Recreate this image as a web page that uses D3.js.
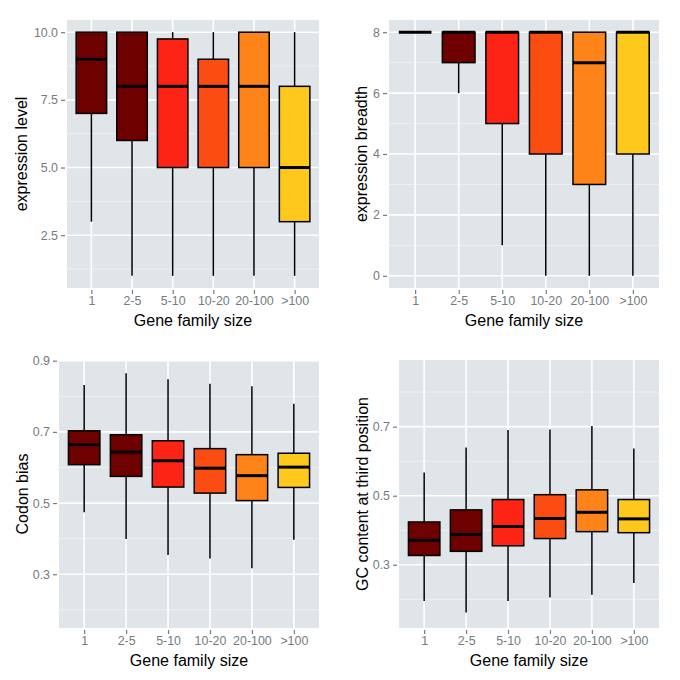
<!DOCTYPE html>
<html>
<head>
<meta charset="utf-8">
<script src="https://cdn.jsdelivr.net/npm/d3@7"></script>
<style>
  html, body { margin: 0; padding: 0; background: #ffffff; }
  svg { display: block; font-family: "Liberation Sans", Arial, Helvetica, sans-serif; }
</style>
</head>
<body>
<svg id="chart" width="680" height="680"></svg>
<script>
// ---------- DATA ----------
const categories = ["1", "2-5", "5-10", "10-20", "20-100", ">100"];
const fillColors = ["#6e0000", "#6e0000", "#fe2415", "#fb4c12", "#fe8318", "#fec81c"];

// five-number summaries per category: [lowerWhisker, q1, median, q3, upperWhisker]
const expressionLevel = [
  [3, 7, 9, 10, 10],
  [1, 6, 8, 10, 10],
  [1, 5, 8, 9.75, 10],
  [1, 5, 8, 9, 10],
  [1, 5, 8, 10, 10],
  [1, 3, 5, 8, 10]
];
const expressionBreadth = [
  [8, 8, 8, 8, 8],
  [6, 7, 8, 8, 8],
  [1, 5, 8, 8, 8],
  [0, 4, 8, 8, 8],
  [0, 3, 7, 8, 8],
  [0, 4, 8, 8, 8]
];
const codonBias = [
  [0.474, 0.608, 0.664, 0.703, 0.832],
  [0.399, 0.575, 0.643, 0.692, 0.865],
  [0.354, 0.545, 0.619, 0.675, 0.848],
  [0.344, 0.528, 0.598, 0.653, 0.835],
  [0.317, 0.507, 0.577, 0.636, 0.828],
  [0.397, 0.544, 0.601, 0.640, 0.779]
];
const gcThird = [
  [0.195, 0.327, 0.371, 0.424, 0.567],
  [0.162, 0.339, 0.388, 0.459, 0.640],
  [0.195, 0.355, 0.411, 0.489, 0.690],
  [0.205, 0.376, 0.434, 0.503, 0.692],
  [0.213, 0.396, 0.452, 0.517, 0.702],
  [0.247, 0.393, 0.433, 0.489, 0.637]
];

const levelTicks = [2.5, 5.0, 7.5, 10.0];
const levelMinor = [1.25, 3.75, 6.25, 8.75];
const breadthTicks = [0, 2, 4, 6, 8];
const breadthMinor = [1, 3, 5, 7];
const codonTicks = [0.3, 0.5, 0.7, 0.9];
const codonMinor = [0.2, 0.4, 0.6, 0.8];
const gcTicks = [0.3, 0.5, 0.7];
const gcMinor = [0.2, 0.4, 0.6, 0.8];

const xTitle = "Gene family size";

// ---------- DRAW ----------
const svg = d3.select("#chart");
const tickColor = "#737b80";

function drawPanel(cfg) {
  const g = svg.append("g");
  const x = d3.scalePoint().domain(categories).range([cfg.x0, cfg.x1]).padding(0.6);
  const y = d3.scaleLinear().domain(cfg.domain).range([cfg.y1, cfg.y0]);
  const bw = x.step() * 0.75;

  g.append("rect")
    .attr("x", cfg.x0).attr("y", cfg.y0)
    .attr("width", cfg.x1 - cfg.x0).attr("height", cfg.y1 - cfg.y0)
    .attr("fill", "#dfe5e8");

  const clipId = "clip" + cfg.id;
  svg.append("clipPath").attr("id", clipId).append("rect")
    .attr("x", cfg.x0).attr("y", cfg.y0)
    .attr("width", cfg.x1 - cfg.x0).attr("height", cfg.y1 - cfg.y0);

  const grid = g.append("g").attr("clip-path", `url(#${clipId})`);
  grid.selectAll("line.minor").data(cfg.minor.filter(v => y(v) >= cfg.y0 && y(v) <= cfg.y1)).join("line")
    .attr("x1", cfg.x0).attr("x2", cfg.x1)
    .attr("y1", d => y(d)).attr("y2", d => y(d))
    .attr("stroke", "#f2f5f6").attr("stroke-width", 0.8);
  grid.selectAll("line.major").data(cfg.ticks).join("line")
    .attr("x1", cfg.x0).attr("x2", cfg.x1)
    .attr("y1", d => y(d)).attr("y2", d => y(d))
    .attr("stroke", "#ffffff").attr("stroke-width", 1.6);
  grid.selectAll("line.vmajor").data(categories).join("line")
    .attr("x1", d => x(d)).attr("x2", d => x(d))
    .attr("y1", cfg.y0).attr("y2", cfg.y1)
    .attr("stroke", "#ffffff").attr("stroke-width", 1.6);

  // y axis
  const yAxis = d3.axisLeft(y).tickValues(cfg.ticks).tickFormat(cfg.fmt).tickSize(4).tickPadding(3);
  const ya = g.append("g").attr("transform", `translate(${cfg.x0 - 2},0)`).call(yAxis);
  ya.select(".domain").remove();
  ya.selectAll(".tick line").attr("stroke", tickColor).attr("stroke-width", 1.2);
  ya.selectAll(".tick text").attr("fill", tickColor).style("font-size", "12.4px")
    .style("font-family", '"Liberation Sans", Arial, sans-serif');

  // x axis
  const xAxis = d3.axisBottom(x).tickSize(4).tickPadding(2);
  const xa = g.append("g").attr("transform", `translate(0,${cfg.y1 + 2})`).call(xAxis);
  xa.select(".domain").remove();
  xa.selectAll(".tick line").attr("stroke", tickColor).attr("stroke-width", 1.2);
  xa.selectAll(".tick text").attr("fill", tickColor).style("font-size", "12.4px")
    .style("font-family", '"Liberation Sans", Arial, sans-serif');

  // boxes
  const boxes = g.append("g").selectAll("g").data(cfg.data).join("g");
  boxes.append("line")
    .attr("x1", (d, i) => x(categories[i])).attr("x2", (d, i) => x(categories[i]))
    .attr("y1", d => y(d[0])).attr("y2", d => y(d[1]))
    .attr("stroke", "#000").attr("stroke-width", 1.5);
  boxes.append("line")
    .attr("x1", (d, i) => x(categories[i])).attr("x2", (d, i) => x(categories[i]))
    .attr("y1", d => y(d[3])).attr("y2", d => y(d[4]))
    .attr("stroke", "#000").attr("stroke-width", 1.5);
  boxes.append("rect")
    .attr("x", (d, i) => x(categories[i]) - bw / 2)
    .attr("width", bw)
    .attr("y", d => y(d[3]))
    .attr("height", d => y(d[1]) - y(d[3]))
    .attr("fill", (d, i) => fillColors[i])
    .attr("stroke", "#000").attr("stroke-width", 1.5);
  boxes.append("line")
    .attr("x1", (d, i) => x(categories[i]) - bw / 2)
    .attr("x2", (d, i) => x(categories[i]) + bw / 2)
    .attr("y1", d => y(d[2])).attr("y2", d => y(d[2]))
    .attr("stroke", "#000").attr("stroke-width", 3);

  // titles
  g.append("text")
    .attr("x", (cfg.x0 + cfg.x1) / 2).attr("y", cfg.y1 + 37.5)
    .attr("text-anchor", "middle").attr("fill", "#000")
    .style("font-size", "16px").text(xTitle);
  g.append("text")
    .attr("transform", `translate(${cfg.titleX},${(cfg.y0 + cfg.y1) / 2}) rotate(-90)`)
    .attr("text-anchor", "middle").attr("dy", "0.35em").attr("fill", "#000")
    .style("font-size", "16px").text(cfg.yTitle);
}

drawPanel({ id: 1, x0: 67, x1: 319, y0: 20, y1: 288, domain: [0.55, 10.45],
  ticks: levelTicks, minor: levelMinor, fmt: d3.format(".1f"),
  data: expressionLevel, yTitle: "expression level", titleX: 21 });
drawPanel({ id: 2, x0: 389, x1: 659, y0: 20, y1: 288, domain: [-0.4, 8.4],
  ticks: breadthTicks, minor: breadthMinor, fmt: d3.format("d"),
  data: expressionBreadth, yTitle: "expression breadth", titleX: 361 });
drawPanel({ id: 3, x0: 59, x1: 319, y0: 360, y1: 628, domain: [0.149, 0.902],
  ticks: codonTicks, minor: codonMinor, fmt: d3.format(".1f"),
  data: codonBias, yTitle: "Codon bias", titleX: 22 });
drawPanel({ id: 4, x0: 399, x1: 659, y0: 360, y1: 628, domain: [0.117, 0.893],
  ticks: gcTicks, minor: gcMinor, fmt: d3.format(".1f"),
  data: gcThird, yTitle: "GC content at third position", titleX: 362 });
</script>
</body>
</html>
